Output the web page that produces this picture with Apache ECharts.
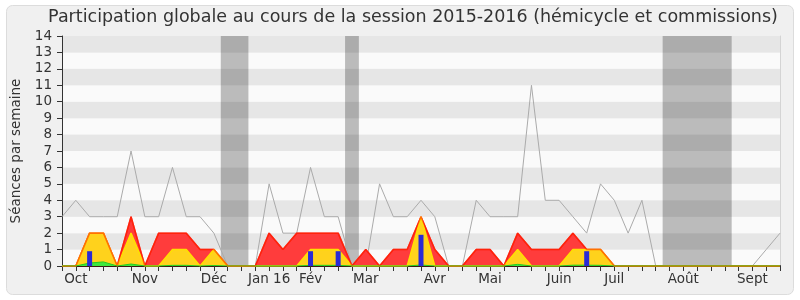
<!DOCTYPE html>
<html><head><meta charset="utf-8">
<script src="https://cdn.jsdelivr.net/npm/echarts@6/dist/echarts.min.js"></script>
<style>html,body{margin:0;padding:0;background:#fff}#c{width:800px;height:300px}</style>
</head><body><div id="c"></div>
<script>
// Week tick labels (one entry per week of the session)
const monthLabels = ['', 'Oct', '', '', '', '', 'Nov', '', '', '', '', 'Déc', '', '', '', 'Jan 16', '', '', 'Fév', '', '', '', 'Mar', '', '', '', '', 'Avr', '', '', '', 'Mai', '', '', '', '', 'Juin', '', '', '', 'Juil', '', '', '', '', 'Août', '', '', '', '', 'Sept', '', ''];
const weeks = monthLabels.map((m, i) => 'S' + (i + 1));
// Gray line: total sessions per week
const seances = [3,4,3,3,3,7,3,3,6,3,3,2,0,0,0,5,2,2,6,3,3,0,0,5,3,3,4,3,0,0,4,3,3,3,11,4,4,3,2,5,4,2,4,0,0,0,0,0,0,0,0,1,2];
// Red area: presence
const presence = [0,0,2,2,0,3,0,2,2,2,1,1,0,0,0,2,1,2,2,2,2,0,1,0,1,1,3,1,0,0,1,1,0,2,1,1,1,2,1,1,0,0,0,0,0,0,0,0,0,0,0,0,0];
// Yellow area: commission presence
const commission = [0,0,2,2,0,2,0,0,1,1,0,1,0,0,0,0,0,0,1,1,1,0,0,0,0,0,3,0,0,0,0,0,0,1,0,0,0,1,1,1,0,0,0,0,0,0,0,0,0,0,0,0,0];
// Green area: interventions
const interventions = [0,0,0.18,0.25,0,0.12,0,0,0.04,0.04,0,0.03,0,0,0,0,0,0,0.04,0.04,0.04,0,0,0,0,0,0.06,0,0,0,0,0,0,0.1,0,0,0,0.05,0.05,0.04,0,0,0,0,0,0,0,0,0,0,0,0,0];
// Blue bars: questions
const questions = [null,null,0.9,null,null,null,null,null,null,null,null,null,null,null,null,null,null,null,0.9,null,0.9,null,null,null,null,null,1.9,null,null,null,null,null,null,null,null,null,null,null,0.9,null,null,null,null,null,null,null,null,null,null,null,null,null,null];
// Vacation periods (week index ranges)
const vacations = [[11.5, 13.5], [20.5, 21.5], [43.5, 48.5]];

const FONT = 'DejaVu Sans';
const chart = echarts.init(document.getElementById('c'), null, {renderer: 'canvas'});
chart.setOption({
  backgroundColor: '#ffffff',
  animation: false,
  textStyle: {fontFamily: FONT},
  graphic: [{
    type: 'rect', z: -100, silent: true,
    shape: {x: 6.5, y: 5.5, width: 787, height: 289, r: 6},
    style: {fill: '#f0f0f0', stroke: '#dcdcdc', lineWidth: 1}
  }],
  title: {
    text: 'Participation globale au cours de la session 2015-2016 (hémicycle et commissions)',
    left: 408, textAlign: 'center', top: 3,
    textStyle: {fontFamily: FONT, fontSize: 17.5, fontWeight: 'normal', color: '#333'}
  },
  grid: {left: 62, right: 20, top: 36, bottom: 34},
  xAxis: [{
    type: 'category', data: weeks, boundaryGap: false, position: 'bottom',
    axisLine: {show: true, onZero: false, lineStyle: {color: '#3a1a10', width: 1}},
    axisTick: {show: true, interval: 0, length: 5, lineStyle: {color: '#333'}},
    axisLabel: {interval: 0, formatter: (v, i) => monthLabels[i], fontFamily: FONT, fontSize: 13.5, color: '#333', margin: 6},
    splitLine: {show: false}
  }, {
    type: 'category', data: weeks, boundaryGap: false, position: 'top',
    axisLine: {show: false},
    axisTick: {show: true, interval: 0, length: 1, lineStyle: {color: '#555'}},
    axisLabel: {show: false}, splitLine: {show: false}
  }, {
    type: 'value', min: 0, max: weeks.length - 1, show: false
  }],
  yAxis: [{
    type: 'value', min: 0, max: 14, interval: 1,
    name: 'Séances par semaine', nameLocation: 'middle', nameGap: 35,
    nameTextStyle: {fontFamily: FONT, fontSize: 13.5, color: '#333'},
    axisLine: {show: true, lineStyle: {color: '#333'}},
    axisTick: {show: true, length: 5, lineStyle: {color: '#333'}},
    axisLabel: {fontFamily: FONT, fontSize: 13.5, color: '#333', margin: 10},
    splitLine: {show: false},
    splitArea: {show: true, areaStyle: {color: ['#fafafa', '#e6e6e6']}}
  }, {
    type: 'value', min: 0, max: 14, interval: 1, position: 'right',
    axisLine: {show: true, lineStyle: {color: '#d4d4d4'}},
    axisTick: {show: false}, axisLabel: {show: false}, splitLine: {show: false}
  }],
  series: [{
    name: 'Séances', type: 'line', data: seances, z: 1,
    symbol: 'none', lineStyle: {color: '#aaaaaa', width: 1}
  }, {
    name: 'Vacances', type: 'line', xAxisIndex: 2, data: [], z: 2,
    markArea: {silent: true, itemStyle: {color: 'rgba(0,0,0,0.25)'},
      data: vacations.map(v => [{xAxis: v[0]}, {xAxis: v[1]}])}
  }, {
    name: 'Présence', type: 'line', data: presence, z: 3,
    symbol: 'none', lineStyle: {color: '#ff1c1c', width: 1.5},
    areaStyle: {color: '#ff3c3c', opacity: 1}
  }, {
    name: 'Commission', type: 'line', data: commission, z: 4,
    symbol: 'none', lineStyle: {color: '#ffe000', width: 1.5},
    areaStyle: {color: '#ffd21c', opacity: 1}
  }, {
    name: 'PrésenceBord', type: 'line', data: presence, z: 5,
    symbol: 'none', lineStyle: {color: 'rgba(255,40,0,0.6)', width: 1.5}
  }, {
    name: 'Interventions', type: 'line', data: interventions, z: 6,
    symbol: 'none', lineStyle: {color: '#22cc22', width: 1},
    areaStyle: {color: '#3ee83e', opacity: 1}
  }, {
    name: 'Questions', type: 'bar', data: questions, z: 7,
    barWidth: 5, itemStyle: {color: '#2a2ad6'}
  }]
});
</script></body></html>
